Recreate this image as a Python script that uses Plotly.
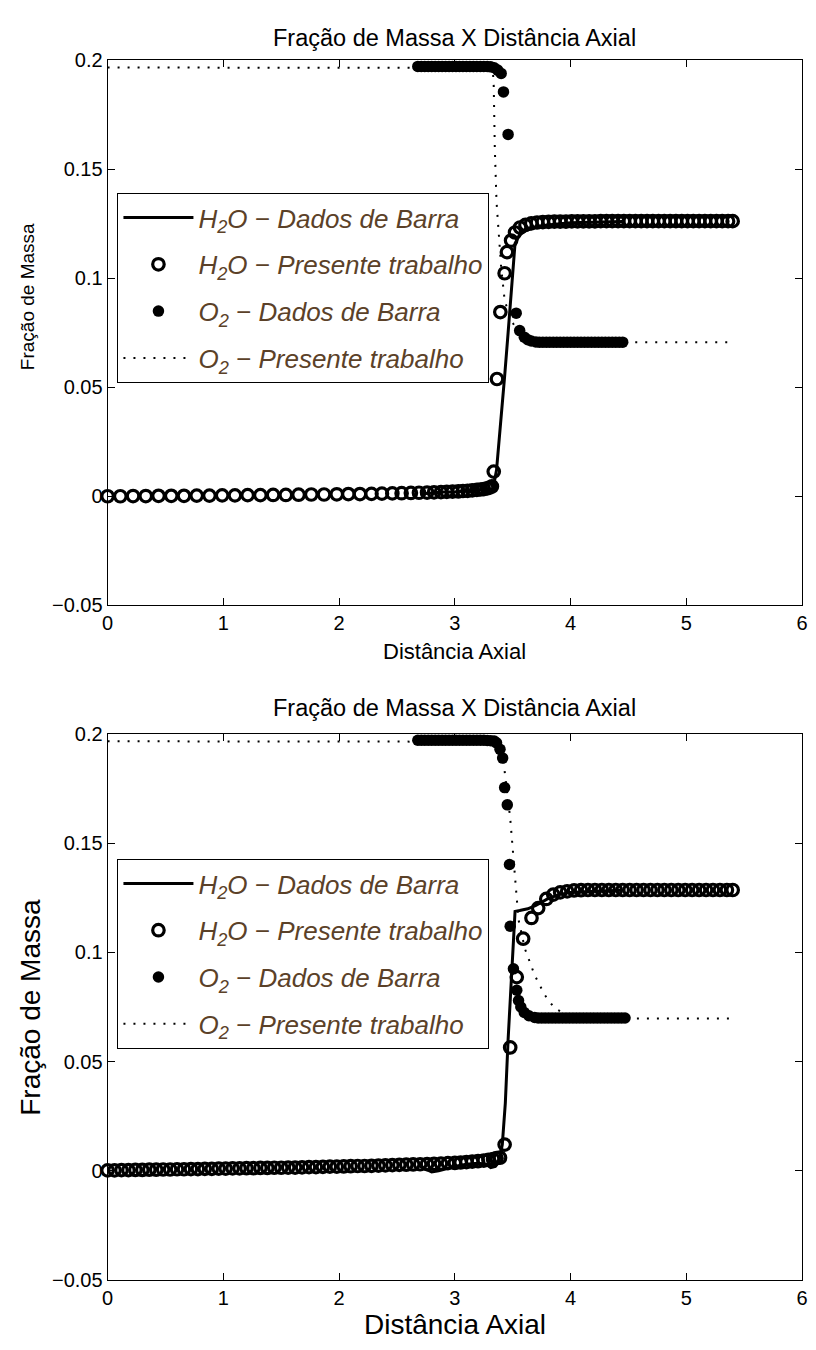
import plotly.graph_objects as go

FONT = "Liberation Sans, Arial, Helvetica, sans-serif"
LEG_COLOR = "#5b4128"

# ---------------- shared axes ----------------
x_ticks = [0, 1, 2, 3, 4, 5, 6]
y_ticks = [-0.05, 0, 0.05, 0.1, 0.15, 0.2]
y_ticktext = ["\u22120.05", "0", "0.05", "0.1", "0.15", "0.2"]

chart_title = "Fração de Massa X Distância Axial"
x_title = "Distância Axial"
y_title = "Fração de Massa"
legend_names = [
    "H<sub>2</sub>O \u2212 Dados de Barra",
    "H<sub>2</sub>O \u2212 Presente trabalho",
    "O<sub>2</sub> \u2212 Dados de Barra",
    "O<sub>2</sub> \u2212 Presente trabalho",
]

# ---------------- top chart data ----------------
top_h2o_barra_x = [2.70, 2.80, 2.90, 3.00, 3.10, 3.20, 3.28, 3.33, 3.36, 3.40, 3.43, 3.46,
                   3.49, 3.52, 3.56, 3.62, 3.70, 3.80, 4.00, 4.20, 4.45]
top_h2o_barra_y = [0.0010, 0.0015, 0.0020, 0.0020, 0.0025, 0.0030, 0.0030, 0.0035, 0.0120,
                   0.0350, 0.0550, 0.0750, 0.0970, 0.1160, 0.1200, 0.1220, 0.1235, 0.1245,
                   0.1255, 0.1258, 0.1260]

top_h2o_pres_x = [0.00, 0.11, 0.22, 0.33, 0.44, 0.55, 0.66, 0.77, 0.88, 0.99,
                  1.10, 1.21, 1.32, 1.43, 1.54, 1.65, 1.76, 1.87, 1.98, 2.08,
                  2.18, 2.28, 2.37, 2.46, 2.54, 2.62, 2.69, 2.76, 2.82, 2.88,
                  2.93, 2.98, 3.03, 3.07, 3.11, 3.15, 3.19, 3.22, 3.25, 3.28,
                  3.30, 3.32,
                  3.336, 3.364, 3.393, 3.43, 3.45, 3.486, 3.52, 3.563,
                  3.61, 3.66, 3.71, 3.76,
                  3.81, 3.86, 3.91, 3.96, 4.01, 4.06, 4.11, 4.16, 4.21, 4.26,
                  4.31, 4.36, 4.41, 4.46, 4.51, 4.56, 4.61, 4.66, 4.71, 4.76,
                  4.81, 4.86, 4.91, 4.96, 5.01, 5.06, 5.11, 5.16, 5.21, 5.26,
                  5.31, 5.36, 5.40]
top_h2o_pres_y = [0.0000, 0.0000, 0.0001, 0.0001, 0.0002, 0.0002, 0.0002, 0.0003, 0.0003, 0.0004,
                  0.0004, 0.0005, 0.0005, 0.0006, 0.0006, 0.0007, 0.0008, 0.0008, 0.0009, 0.0010,
                  0.0010, 0.0011, 0.0012, 0.0013, 0.0014, 0.0015, 0.0016, 0.0017, 0.0018, 0.0019,
                  0.0020, 0.0021, 0.0022, 0.0024, 0.0025, 0.0027, 0.0029, 0.0031, 0.0033, 0.0036,
                  0.0040, 0.0045,
                  0.0113, 0.0538, 0.0845, 0.1023, 0.1120, 0.1173, 0.1210, 0.1233,
                  0.1245, 0.1252, 0.1256, 0.1258,
                  0.1259, 0.1260, 0.1260, 0.1260, 0.1261, 0.1261, 0.1261, 0.1261, 0.1261, 0.1262,
                  0.1262, 0.1262, 0.1262, 0.1262, 0.1262, 0.1262, 0.1262, 0.1262, 0.1262, 0.1262,
                  0.1262, 0.1262, 0.1262, 0.1262, 0.1262, 0.1262, 0.1262, 0.1262, 0.1262, 0.1262,
                  0.1262, 0.1262, 0.1262]

top_o2_barra_x = [2.68, 2.71, 2.74, 2.77, 2.80, 2.83, 2.86, 2.89, 2.92, 2.95,
                  2.98, 3.01, 3.04, 3.07, 3.10, 3.13, 3.16, 3.19, 3.22, 3.25,
                  3.28, 3.31, 3.34, 3.37, 3.40,
                  3.42, 3.46, 3.53, 3.56, 3.60, 3.63, 3.66, 3.70,
                  3.73, 3.76, 3.79, 3.82, 3.85, 3.88, 3.91, 3.94, 3.97, 4.00,
                  4.03, 4.06, 4.09, 4.12, 4.15, 4.18, 4.21, 4.24, 4.27, 4.30,
                  4.33, 4.36, 4.39, 4.42, 4.45]
top_o2_barra_y = [0.1972, 0.1972, 0.1972, 0.1972, 0.1972, 0.1972, 0.1972, 0.1972, 0.1972, 0.1972,
                  0.1972, 0.1972, 0.1972, 0.1972, 0.1972, 0.1972, 0.1972, 0.1972, 0.1972, 0.1972,
                  0.1972, 0.1970, 0.1966, 0.1955, 0.1940,
                  0.1855, 0.1660, 0.0840, 0.0760, 0.0730, 0.0718, 0.0712, 0.0708,
                  0.0707, 0.0707, 0.0707, 0.0707, 0.0707, 0.0707, 0.0707, 0.0707, 0.0707, 0.0707,
                  0.0707, 0.0707, 0.0707, 0.0707, 0.0707, 0.0707, 0.0707, 0.0707, 0.0707, 0.0707,
                  0.0707, 0.0707, 0.0707, 0.0707, 0.0707]

top_o2_pres_x = [0.00, 2.70, 3.30, 3.33, 3.336, 3.345, 3.36, 3.38, 3.40, 3.43, 3.47, 3.506,
                 3.56, 3.65, 3.80, 4.50, 5.40]
top_o2_pres_y = [0.1967, 0.1967, 0.1965, 0.1940, 0.1880, 0.1600, 0.1350, 0.1200, 0.1050,
                 0.0900, 0.0830, 0.0790, 0.0745, 0.0718, 0.0709, 0.0707, 0.0707]

# ---------------- bottom chart data ----------------
bot_h2o_barra_x = [2.70, 2.76, 2.80, 2.86, 2.92, 3.00, 3.10, 3.20, 3.27, 3.31, 3.35, 3.38,
                   3.41, 3.436, 3.46, 3.49, 3.52, 3.56, 3.63, 3.70, 3.80, 3.90, 4.00, 4.20, 4.45]
bot_h2o_barra_y = [0.0020, 0.0005, -0.0005, 0.0000, 0.0010, 0.0020, 0.0030, 0.0035, 0.0030,
                   0.0015, 0.0020, 0.0040, 0.0120, 0.0310, 0.0600, 0.0900, 0.1188, 0.1192,
                   0.1200, 0.1215, 0.1245, 0.1265, 0.1275, 0.1280, 0.1285]

bot_h2o_pres_x = [0.00, 0.06, 0.12, 0.18, 0.24, 0.30, 0.36, 0.42, 0.48, 0.54,
                  0.60, 0.66, 0.72, 0.78, 0.84, 0.90, 0.96, 1.02, 1.08, 1.14,
                  1.20, 1.26, 1.32, 1.38, 1.44, 1.50, 1.56, 1.62, 1.68, 1.74,
                  1.80, 1.86, 1.92, 1.98, 2.04, 2.10, 2.16, 2.22, 2.28, 2.34,
                  2.40, 2.46, 2.52, 2.58, 2.64, 2.70, 2.76, 2.82, 2.88, 2.94,
                  3.00, 3.05, 3.10, 3.15, 3.20, 3.25, 3.29, 3.33, 3.36,
                  3.39, 3.43, 3.478, 3.535, 3.59, 3.662, 3.72, 3.79, 3.85, 3.91, 3.97,
                  4.03, 4.09, 4.15, 4.21, 4.27, 4.33, 4.39, 4.45, 4.51, 4.57,
                  4.63, 4.69, 4.75, 4.81, 4.87, 4.93, 4.99, 5.05, 5.11, 5.17,
                  5.23, 5.29, 5.35, 5.40]
bot_h2o_pres_y = [0.0002, 0.0002, 0.0003, 0.0003, 0.0004, 0.0004, 0.0005, 0.0005, 0.0006, 0.0006,
                  0.0007, 0.0007, 0.0008, 0.0008, 0.0009, 0.0009, 0.0010, 0.0010, 0.0011, 0.0011,
                  0.0012, 0.0012, 0.0013, 0.0013, 0.0014, 0.0014, 0.0015, 0.0015, 0.0016, 0.0017,
                  0.0017, 0.0018, 0.0019, 0.0019, 0.0020, 0.0021, 0.0022, 0.0022, 0.0023, 0.0024,
                  0.0025, 0.0026, 0.0027, 0.0028, 0.0029, 0.0030, 0.0031, 0.0032, 0.0033, 0.0035,
                  0.0036, 0.0038, 0.0040, 0.0042, 0.0044, 0.0047, 0.0050, 0.0054, 0.0058,
                  0.0060, 0.0120, 0.0565, 0.0887, 0.1063, 0.1158, 0.1203, 0.1245, 0.1265, 0.1275, 0.1280,
                  0.1284, 0.1285, 0.1286, 0.1286, 0.1286, 0.1286, 0.1286, 0.1286, 0.1286, 0.1286,
                  0.1286, 0.1286, 0.1286, 0.1286, 0.1286, 0.1286, 0.1286, 0.1286, 0.1286, 0.1286,
                  0.1286, 0.1286, 0.1286, 0.1286]

bot_o2_barra_x = [2.68, 2.71, 2.74, 2.77, 2.80, 2.83, 2.86, 2.89, 2.92, 2.95,
                  2.98, 3.01, 3.04, 3.07, 3.10, 3.13, 3.16, 3.19, 3.22, 3.25,
                  3.28, 3.31, 3.34,
                  3.36, 3.39, 3.413, 3.43, 3.453, 3.472, 3.478, 3.506, 3.535, 3.55,
                  3.57, 3.60, 3.64, 3.69,
                  3.72, 3.75, 3.78, 3.81, 3.84, 3.87, 3.90, 3.93, 3.96, 3.99,
                  4.02, 4.05, 4.08, 4.11, 4.14, 4.17, 4.20, 4.23, 4.26, 4.29,
                  4.32, 4.35, 4.38, 4.41, 4.44, 4.47]
bot_o2_barra_y = [0.1972, 0.1972, 0.1972, 0.1972, 0.1972, 0.1972, 0.1972, 0.1972, 0.1972, 0.1972,
                  0.1972, 0.1972, 0.1972, 0.1972, 0.1972, 0.1972, 0.1972, 0.1972, 0.1972, 0.1972,
                  0.1971, 0.1970, 0.1968,
                  0.1960, 0.1930, 0.1890, 0.1755, 0.1676, 0.1403, 0.1120, 0.0925, 0.0827, 0.0780,
                  0.0750, 0.0725, 0.0710, 0.0702,
                  0.0700, 0.0700, 0.0700, 0.0700, 0.0700, 0.0700, 0.0700, 0.0700, 0.0700, 0.0700,
                  0.0700, 0.0700, 0.0700, 0.0700, 0.0700, 0.0700, 0.0700, 0.0700, 0.0700, 0.0700,
                  0.0700, 0.0700, 0.0700, 0.0700, 0.0700, 0.0700]

bot_o2_pres_x = [0.00, 2.70, 3.35, 3.40, 3.43, 3.478, 3.506, 3.52, 3.535, 3.55, 3.605,
                 3.69, 3.777, 3.86, 3.946, 4.05, 4.50, 5.40]
bot_o2_pres_y = [0.1967, 0.1967, 0.1965, 0.1940, 0.1830, 0.1616, 0.1436, 0.1315, 0.1225,
                 0.1150, 0.1017, 0.0895, 0.0805, 0.0745, 0.0720, 0.0705, 0.0698, 0.0698]

# ---------------- layout geometry (page px; page body adds an 8px margin) ----------------
OFF = 8
W, H = 816 - OFF, 1350 - OFF
AX_L, AX_R = 103, 808
TOP_T, TOP_B = 50, 604
BOT_T, BOT_B = 735, 1290


def px_x(p):
    return (p - OFF) / W


def px_y(p):
    return 1 - (p - OFF) / H


fig = go.Figure()

panels = [
    ("x", "y", "legend", (top_h2o_barra_x, top_h2o_barra_y), (top_h2o_pres_x, top_h2o_pres_y),
     (top_o2_barra_x, top_o2_barra_y), (top_o2_pres_x, top_o2_pres_y)),
    ("x2", "y2", "legend2", (bot_h2o_barra_x, bot_h2o_barra_y), (bot_h2o_pres_x, bot_h2o_pres_y),
     (bot_o2_barra_x, bot_o2_barra_y), (bot_o2_pres_x, bot_o2_pres_y)),
]

for xa, ya, leg, hb, hp, ob, op in panels:
    fig.add_trace(go.Scatter(
        x=hb[0], y=hb[1], mode="lines", name=legend_names[0],
        line=dict(color="black", width=3), xaxis=xa, yaxis=ya, legend=leg,
        legendgroup=leg + "a", cliponaxis=False))
    fig.add_trace(go.Scatter(
        x=hp[0], y=hp[1], mode="markers", name=legend_names[1],
        marker=dict(symbol="circle-open", size=11.5, color="black", line=dict(width=3.2, color="black")),
        xaxis=xa, yaxis=ya, legend=leg, legendgroup=leg + "b", cliponaxis=False))
    fig.add_trace(go.Scatter(
        x=ob[0], y=ob[1], mode="markers", name=legend_names[2],
        marker=dict(symbol="circle", size=11.5, color="black"),
        xaxis=xa, yaxis=ya, legend=leg, legendgroup=leg + "c", cliponaxis=False))
    fig.add_trace(go.Scatter(
        x=op[0], y=op[1], mode="lines", name=legend_names[3],
        line=dict(color="black", width=2, dash="2px,8px"),
        xaxis=xa, yaxis=ya, legend=leg, legendgroup=leg + "d", cliponaxis=False))

axis_common = dict(showgrid=False, zeroline=False, showline=True, linecolor="black", linewidth=1,
                   mirror="allticks", ticks="inside", ticklen=7, tickcolor="black", tickwidth=1,
                   ticklabeloverflow="allow",
                   tickfont=dict(family=FONT, size=20, color="black"))

xdom = [px_x(AX_L), px_x(AX_R)]
fig.update_layout(
    width=W, height=H, margin=dict(l=0, r=0, t=0, b=0),
    paper_bgcolor="white", plot_bgcolor="white",
    xaxis=dict(domain=xdom, anchor="y", range=[0, 6], tickvals=x_ticks, **axis_common),
    yaxis=dict(domain=[px_y(TOP_B), px_y(TOP_T)], anchor="x", range=[-0.05, 0.2],
               tickvals=y_ticks, ticktext=y_ticktext, **axis_common),
    xaxis2=dict(domain=xdom, anchor="y2", range=[0, 6], tickvals=x_ticks, **axis_common),
    yaxis2=dict(domain=[px_y(BOT_B), px_y(BOT_T)], anchor="x2", range=[-0.05, 0.2],
                tickvals=y_ticks, ticktext=y_ticktext, **axis_common),
    showlegend=True,
)

leg_common = dict(xanchor="left", yanchor="top", bgcolor="white", bordercolor="black", borderwidth=1,
                  font=dict(family=FONT, size=26, color=LEG_COLOR, style="italic"),
                  itemwidth=70, tracegroupgap=10, traceorder="grouped")
fig.update_layout(
    legend=dict(x=px_x(113), y=px_y(185), **leg_common),
    legend2=dict(x=px_x(113), y=px_y(862), **leg_common),
)

mid_x = (AX_L + AX_R) / 2
anns = [
    dict(text=chart_title, x=px_x(mid_x), y=px_y(27), size=23.5),
    dict(text=chart_title, x=px_x(mid_x), y=px_y(708), size=23.5),
    dict(text=x_title, x=px_x(mid_x), y=px_y(651), size=22),
    dict(text=x_title, x=px_x(mid_x), y=px_y(1335), size=28),
]
for a in anns:
    fig.add_annotation(text=a["text"], x=a["x"], y=a["y"], xref="paper", yref="paper",
                       xanchor="center", yanchor="middle", showarrow=False,
                       font=dict(family=FONT, size=a["size"], color="black"))
for yc, sz, xc in [(290, 19, 22), ((BOT_T + BOT_B) / 2, 28, 24)]:
    fig.add_annotation(text=y_title, x=px_x(xc), y=px_y(yc), xref="paper", yref="paper",
                       xanchor="center", yanchor="middle", showarrow=False, textangle=-90,
                       font=dict(family=FONT, size=sz, color="black"))

fig.write_html("out.html")
